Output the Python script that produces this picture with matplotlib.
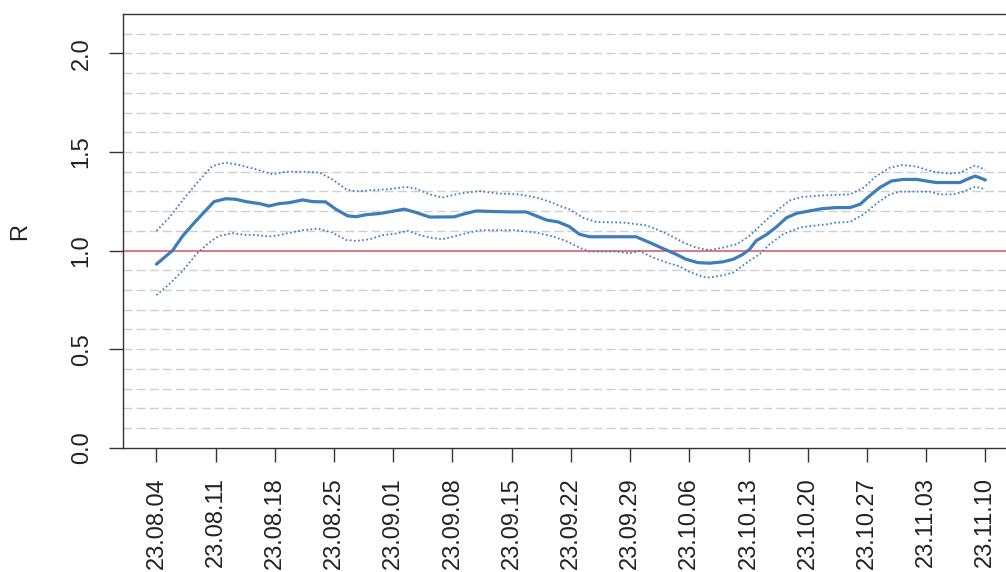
import matplotlib
matplotlib.use("Agg")
import matplotlib.pyplot as plt
import matplotlib.dates as mdates
import numpy as np
import pandas as pd

plt.rcParams['font.family'] = ['Liberation Sans', 'DejaVu Sans']
plt.rcParams['lines.scale_dashes'] = False

start_date = "2023-08-04"

days_mean = [0, 1.9, 3.1, 4.3, 5.4, 6.8, 8.2, 9.4, 10.6, 12.2, 13.3, 14.5, 15.7, 17.3,
             18.5, 20.0, 21.2, 22.6, 23.6, 24.8, 26.4, 27.5, 29.3, 30.7, 32.3, 35.2,
             36.2, 37.8, 39.8, 42.1, 43.7, 44.9, 46.1, 47.5, 48.8, 50.0, 51.2, 56.7,
             58.3, 59.9, 61.5, 62.6, 64.0, 65.4, 67.0, 68.2, 69.3, 70.1, 70.9, 72.1,
             73.3, 74.5, 75.7, 77.2, 78.8, 80.4, 82.0, 83.2, 84.3, 85.5, 86.9, 88.3,
             89.9, 91.0, 92.2, 93.8, 95.0, 95.8, 96.8, 98.0]
r_mean = [0.931, 1.000, 1.074, 1.133, 1.184, 1.248, 1.263, 1.260, 1.248, 1.238, 1.226,
          1.238, 1.243, 1.257, 1.248, 1.247, 1.210, 1.176, 1.172, 1.182, 1.188, 1.196,
          1.210, 1.193, 1.170, 1.171, 1.184, 1.201, 1.198, 1.196, 1.196, 1.176, 1.155,
          1.145, 1.122, 1.083, 1.070, 1.070, 1.041, 1.010, 0.980, 0.956, 0.939, 0.936,
          0.943, 0.956, 0.980, 1.005, 1.050, 1.080, 1.120, 1.167, 1.189, 1.201, 1.213,
          1.218, 1.218, 1.235, 1.277, 1.319, 1.353, 1.361, 1.361, 1.353, 1.345, 1.345,
          1.345, 1.361, 1.378, 1.358]

days_upper = [0, 1.5, 3.5, 5.0, 6.6, 8.2, 9.8, 11.8, 13.7, 15.3, 17.3, 19.3, 20.8, 22.4,
              23.6, 25.6, 27.5, 29.5, 30.7, 32.3, 33.8, 35.8, 38.2, 40.2, 42.9, 44.9,
              46.5, 47.7, 48.8, 50.4, 52.0, 55.2, 57.9, 59.1, 60.7, 62.3, 63.8, 65.4,
              67.0, 68.6, 70.1, 71.7, 73.3, 74.9, 76.4, 78.8, 82.0, 83.6, 85.1, 86.7,
              88.1, 89.9, 91.8, 93.8, 95.0, 96.8, 98.0]
r_upper = [1.100, 1.167, 1.277, 1.353, 1.429, 1.446, 1.434, 1.412, 1.387, 1.400, 1.400,
           1.395, 1.361, 1.311, 1.300, 1.307, 1.311, 1.323, 1.314, 1.285, 1.269, 1.289,
           1.302, 1.290, 1.285, 1.269, 1.248, 1.226, 1.210, 1.167, 1.145, 1.142, 1.128,
           1.108, 1.078, 1.041, 1.015, 1.002, 1.015, 1.032, 1.074, 1.139, 1.201, 1.255,
           1.272, 1.280, 1.285, 1.319, 1.378, 1.420, 1.434, 1.426, 1.400, 1.390, 1.395,
           1.432, 1.410]

days_lower = [0, 1.5, 3.1, 4.7, 6.2, 7.4, 9.0, 10.6, 11.8, 13.3, 14.5, 15.7, 17.3, 19.1,
              20.8, 22.4, 23.6, 25.2, 26.7, 28.3, 29.7, 31.1, 32.3, 33.8, 35.8, 38.2,
              40.6, 42.5, 44.9, 46.9, 48.4, 50.0, 51.2, 54.4, 55.9, 57.1, 58.7, 60.3,
              61.9, 63.0, 64.6, 65.4, 67.0, 68.2, 70.1, 71.3, 72.5, 74.1, 76.1, 78.1,
              79.2, 80.4, 82.0, 83.6, 85.1, 86.7, 87.9, 89.9, 91.4, 92.6, 94.2, 95.4,
              96.8, 98.0]
r_lower = [0.774, 0.829, 0.897, 0.981, 1.040, 1.074, 1.088, 1.079, 1.079, 1.071, 1.078,
           1.090, 1.103, 1.111, 1.091, 1.054, 1.049, 1.057, 1.078, 1.086, 1.100, 1.079,
           1.066, 1.057, 1.079, 1.103, 1.103, 1.103, 1.091, 1.071, 1.049, 1.015, 0.995,
           0.995, 0.986, 0.998, 0.965, 0.939, 0.919, 0.892, 0.867, 0.863, 0.875, 0.889,
           0.948, 0.981, 1.032, 1.083, 1.117, 1.128, 1.133, 1.142, 1.145, 1.184, 1.238,
           1.285, 1.299, 1.299, 1.299, 1.285, 1.285, 1.299, 1.324, 1.311]

assert len(days_mean) == len(r_mean)
assert len(days_upper) == len(r_upper)
assert len(days_lower) == len(r_lower)

tick_days = list(range(0, 99, 7))
y_ticks = [0.0, 0.5, 1.0, 1.5, 2.0]
grid_levels = [round(0.1 * i, 1) for i in range(1, 22) if i != 10]
ref_level = 1.0

t0 = pd.Timestamp(start_date)
def to_dates(d):
    return t0 + pd.to_timedelta(np.asarray(d, dtype=float), unit="D")

W, H = 1006, 572
fig = plt.figure(figsize=(W / 100, H / 100), dpi=100)
left, right, top, bottom = 123.3, 1018.5, 14.0, 447.7
ax = fig.add_axes([left / W, 1 - bottom / H, (right - left) / W, (bottom - top) / H])

ax.set_xlim(to_dates([-3.92])[0], to_dates([101.92])[0])
ax.set_ylim(0, 2.2)

for g in grid_levels:
    ax.axhline(g, color="#d0d0d0", lw=1.0, dashes=(6.5, 2.9), zorder=1)
ax.axhline(ref_level, color="#e57583", lw=1.4, zorder=2)

blue = "#3d7dba"
ax.plot(to_dates(days_upper), r_upper, color=blue, lw=1.3, dashes=(1.2, 1.8), zorder=3)
ax.plot(to_dates(days_lower), r_lower, color=blue, lw=1.3, dashes=(1.2, 1.8), zorder=3)
ax.plot(to_dates(days_mean), r_mean, color=blue, lw=2.3, zorder=4,
        solid_joinstyle="round", solid_capstyle="round")

ax.set_xticks(to_dates(tick_days))
ax.xaxis.set_major_formatter(mdates.DateFormatter("%y.%m.%d"))
ax.set_yticks(y_ticks)
ax.set_yticklabels([f"{v:.1f}" for v in y_ticks])

for s in ax.spines.values():
    s.set_color("#333333")
    s.set_linewidth(1.0)

ax.tick_params(axis="both", which="major", length=10, width=1.0, color="#333333",
               labelsize=17, labelcolor="#222222")
ax.tick_params(axis="x", pad=11)
ax.tick_params(axis="y", pad=12)
for lbl in ax.get_xticklabels():
    lbl.set_rotation(90)
for lbl in ax.get_yticklabels():
    lbl.set_rotation(90)
    lbl.set_va("center")

fig.text(20 / W, 1 - 231 / H, "R", rotation=90, fontsize=17, color="#222222",
         ha="center", va="center")

fig.savefig("out.png", dpi=100)
